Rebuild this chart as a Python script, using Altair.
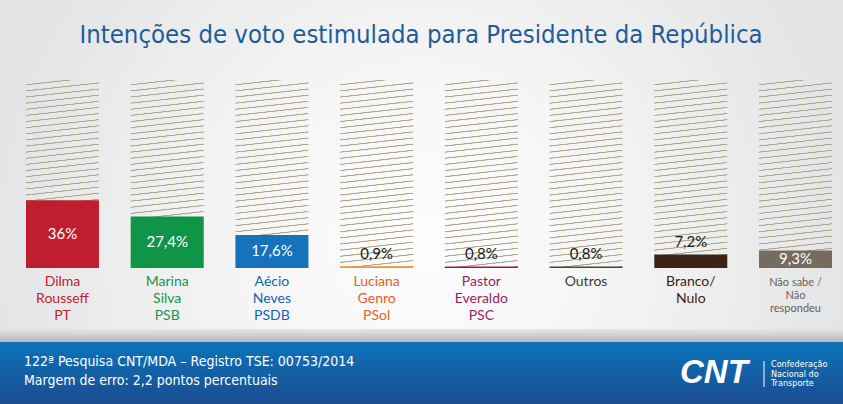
import altair as alt
import pandas as pd

# ---- data ----
categories = ["Dilma", "Marina", "Aecio", "Luciana", "Pastor", "Outros", "Branco", "NaoSabe"]
values = [36.0, 27.4, 17.6, 0.9, 0.8, 0.8, 7.2, 9.3]
labels = ["Dilma\nRousseff\nPT", "Marina\nSilva\nPSB", "Aécio\nNeves\nPSDB", "Luciana\nGenro\nPSol",
          "Pastor\nEveraldo\nPSC", "Outros", "Branco/\nNulo", "Não sabe /\nNão\nrespondeu"]
bar_colors = ["#be1e2d", "#0f9548", "#1572bb", "#f7941e", "#8f1d55", "#444444", "#3c2415", "#756b5f"]
label_colors = ["#c5202f", "#18954a", "#1465ad", "#f05a28", "#9c1c5c", "#3a3a3a", "#3d2314", "#6b5f52"]

title_text = "Intenções de voto estimulada para Presidente da República"
footer_lines = ["122ª Pesquisa CNT/MDA – Registro TSE: 00753/2014", "Margem de erro: 2,2 pontos percentuais"]
logo_text = "CNT"
logo_sub = "Confederação\nNacional do\nTransporte"

df = pd.DataFrame({"cat": categories, "value": values, "label": labels})

W, H = 843, 404
COND = "DejaVu Sans Condensed, sans-serif"
BODY = "Lato, Open Sans, sans-serif"

# ---- styles ----
def hatch_stops(n=32, line="#b0a792", bg="rgba(255,255,255,0)"):
    p = 1.0 / n
    stops = []
    for i in range(n):
        b = i * p
        stops += [
            {"offset": round(b, 5), "color": bg},
            {"offset": round(b + 0.62 * p, 5), "color": bg},
            {"offset": round(b + 0.72 * p, 5), "color": line},
            {"offset": round(b + 0.84 * p, 5), "color": line},
            {"offset": round(b + 0.94 * p, 5), "color": bg},
        ]
    return stops

hatch = {"gradient": "linear", "x1": 0, "y1": 0, "x2": 0.0443, "y2": 1.0407, "stops": hatch_stops()}

bg_grad = {"gradient": "radial", "x1": 0.5, "y1": 0.55, "r1": 0, "x2": 0.5, "y2": 0.55, "r2": 0.5,
           "stops": [{"offset": 0, "color": "#fdfdfd"}, {"offset": 0.4, "color": "#f6f6f6"},
                     {"offset": 1, "color": "#e4e5e6"}]}
footer_grad = {"gradient": "linear", "x1": 0, "y1": 0, "x2": 0, "y2": 1,
               "stops": [{"offset": 0, "color": "#0b74bb"}, {"offset": 1, "color": "#1b4c90"}]}
shadow_grad = {"gradient": "linear", "x1": 0, "y1": 0, "x2": 0, "y2": 1,
               "stops": [{"offset": 0, "color": "#e6e6e6"}, {"offset": 1, "color": "#b8b8b8"}]}

one = alt.Data(values=[{}])

xenc = alt.X("cat:N", sort=categories, axis=None,
             scale=alt.Scale(range=[26, 832], paddingInner=0.303, paddingOuter=0))
yscale = alt.Scale(domain=[0, 100], range=[268, 80], nice=False)

background = alt.Chart(one).mark_rect(fill=bg_grad).encode(
    x=alt.value(0), x2=alt.value("width"), y=alt.value(0), y2=alt.value("height"))
shadow = alt.Chart(one).mark_rect(fill=shadow_grad).encode(
    x=alt.value(0), x2=alt.value("width"), y=alt.value(329), y2=alt.value(342))
footer = alt.Chart(one).mark_rect(fill=footer_grad).encode(
    x=alt.value(0), x2=alt.value("width"), y=alt.value(342), y2=alt.value("height"))

title = alt.Chart(one).mark_text(font=COND, fontSize=25.5, color="#1f5d99", baseline="middle", align="center").encode(
    x=alt.value(421), y=alt.value(35), text=alt.value(title_text))

hatch_bars = alt.Chart(df).transform_calculate(full="100").mark_bar(fill=hatch).encode(
    x=xenc, y=alt.Y("full:Q", scale=yscale, axis=None, stack=None))

bars = alt.Chart(df).mark_bar().encode(
    x=xenc, y=alt.Y("value:Q", scale=yscale, axis=None, stack=None),
    fill=alt.Fill("cat:N", scale=alt.Scale(domain=categories, range=bar_colors), legend=None))

fmt = "(datum.value % 1 == 0 ? format(datum.value, 'd') : replace(format(datum.value, '.1f'), '.', ',')) + '%'"

inside = alt.Chart(df).transform_filter("datum.value >= 9").transform_calculate(
    mid="datum.value / 2", txt=fmt).mark_text(font=BODY, fontSize=15, color="white", baseline="middle").encode(
    x=xenc, y=alt.Y("mid:Q", scale=yscale, axis=None), text="txt:N")

outside = alt.Chart(df).transform_filter("datum.value < 9").transform_calculate(
    txt=fmt).mark_text(font=BODY, fontSize=15, color="#1a1a1a", baseline="bottom", dy=-4).encode(
    x=xenc, y=alt.Y("value:Q", scale=yscale, axis=None), text="txt:N")

cat_labels = alt.Chart(df).transform_filter("datum.cat != 'NaoSabe'").mark_text(
    font=BODY, fontSize=14, baseline="top", lineBreak="\n", lineHeight=17).encode(
    x=xenc, y=alt.value(275), text="label:N",
    color=alt.Color("cat:N", scale=alt.Scale(domain=categories, range=label_colors), legend=None))

small_labels = alt.Chart(df).transform_filter("datum.cat == 'NaoSabe'").mark_text(
    font=BODY, fontSize=11, baseline="top", lineBreak="\n", lineHeight=13).encode(
    x=xenc, y=alt.value(277), text="label:N",
    color=alt.Color("cat:N", scale=alt.Scale(domain=categories, range=label_colors), legend=None))

foot1 = alt.Chart(one).mark_text(font=COND, fontSize=14, color="white", align="left", baseline="middle").encode(
    x=alt.value(24), y=alt.value(362), text=alt.value(footer_lines[0]))
foot2 = alt.Chart(one).mark_text(font=COND, fontSize=14, color="white", align="left", baseline="middle").encode(
    x=alt.value(24), y=alt.value(381), text=alt.value(footer_lines[1]))

logo = alt.Chart(one).mark_text(font="Liberation Sans, sans-serif", fontSize=33, fontWeight="bold",
                                 fontStyle="italic", color="white", align="left", baseline="middle").encode(
    x=alt.value(680), y=alt.value(373), text=alt.value(logo_text))
logo_rule = alt.Chart(one).mark_rule(color="white", strokeWidth=1).encode(
    x=alt.value(764), y=alt.value(361), y2=alt.value(387))
logo_sub_t = alt.Chart(one).mark_text(font=COND, fontSize=9, color="white", align="left", baseline="top",
                                       lineBreak="\n", lineHeight=9.5).encode(
    x=alt.value(771), y=alt.value(360), text=alt.value(logo_sub))

chart = alt.layer(
    background, shadow, footer, title, hatch_bars, bars, inside, outside, cat_labels, small_labels,
    foot1, foot2, logo, logo_rule, logo_sub_t
).properties(
    width=W, height=H, padding=0, autosize=alt.AutoSizeParams(type="none"), background="#e6e7e8"
).configure_view(strokeWidth=0)

chart.save("out.html", embed_options={"renderer": "svg", "actions": False})
